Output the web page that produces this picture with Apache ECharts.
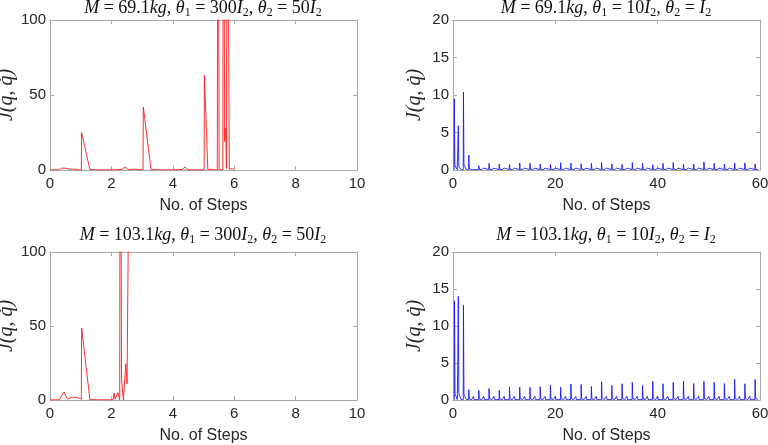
<!DOCTYPE html>
<html>
<head>
<meta charset="utf-8">
<script src="https://cdn.jsdelivr.net/npm/echarts@6/dist/echarts.min.js"></script>
<style>html,body{margin:0;padding:0;background:#fff;}#c{width:768px;height:445px;}</style>
</head>
<body>
<div id="c"></div>
<script>
// ---- Data ----
// Top-left: M = 69.1kg, theta1 = 300 I2, theta2 = 50 I2 (red)
const tlSteps = [0,0.3,0.37,0.43,0.5,0.55,0.65,0.78,0.92,1.02,1.03,1.30,1.6,1.98,2.01,2.05,2.34,2.44,2.52,2.6,2.75,2.9,3.03,3.04,3.29,3.6,4.0,4.02,4.06,4.33,4.40,4.47,4.6,5.02,5.03,5.14,5.3,5.45,5.47,5.51,5.63,5.65,5.69,5.71,5.73,5.75,5.77,5.84,5.9,5.95,6.0];
const tlCost  = [0.1,0.1,1.2,2.2,1.2,0.1,0.5,0.6,0.2,0.1,25,0.3,0.1,0.1,0.6,0.1,0.4,2.0,0.7,0.3,0.6,0.3,0.1,42,0.3,0.1,0.1,0.5,0.1,0.4,2.0,0.4,0.1,0.1,63,0.5,0.2,0.1,300,0.2,0.2,300,19,28,20,1,300,0.5,0.3,1.0,0.2];
// Bottom-left: M = 103.1kg (red)
const blSteps = [0,0.3,0.38,0.46,0.53,0.58,0.7,0.8,0.95,1.02,1.03,1.30,1.6,2.05,2.09,2.12,2.17,2.21,2.24,2.27,2.29,2.33,2.39,2.47,2.51,2.55,2.56];
const blCost  = [0.1,0.1,3,5.4,2,0.5,1.8,2.0,1.3,0.5,48.6,0.3,0.1,0.1,4.7,0.5,1.2,5,4,0.2,300,14,0.2,24.5,11,110,300];
// Top-right: M = 69.1kg, theta1 = 10 I2, theta2 = I2 (blue) – spike steps & peak heights
const trSpikeSteps = [0.22,1.0,2.0,3.05,5,7,9,11,13,15,17,19,21,23,25,27,29,31,33,35,37,39,41,43,45,47,49,51,53,55,57,59];
const trSpikePeaks = [9.5,5.9,10.4,2.0,0.57,0.88,0.8,0.75,0.93,0.88,0.8,0.75,0.97,0.93,0.84,0.88,1.0,0.8,0.75,1.0,0.88,0.7,0.88,1.0,0.8,0.8,1.06,0.88,0.8,0.93,0.93,0.8];
const trMinorSteps = [4,6,8,10,12,14,16,18,20,22,24,26,28,30,32,34,36,38,40,42,44,46,48,50,52,54,56,58];
const trMinorPeaks = [0.25,0.25,0.25,0.25,0.25,0.25,0.25,0.25,0.25,0.25,0.25,0.25,0.25,0.25,0.25,0.25,0.25,0.25,0.25,0.25,0.25,0.25,0.25,0.25,0.25,0.25,0.25,0.25];
// Bottom-right: M = 103.1kg (blue)
const brSpikeSteps = [0.25,1.0,2.0,3.05,5,7,9,11,13,15,17,19,21,23,25,27,29,31,33,35,37,39,41,43,45,47,49,51,53,55,57,59];
const brSpikePeaks = [13.4,14.0,12.8,1.4,1.3,1.56,1.3,1.74,1.74,1.7,1.8,2.0,1.74,2.14,2.1,1.83,2.46,1.96,2.19,2.4,1.96,2.54,2.19,2.37,2.54,2.23,2.5,2.4,2.23,2.8,2.19,2.77];
const brMinorSteps = [4,6,8,10,12,14,16,18,20,22,24,26,28,30,32,34,36,38,40,42,44,46,48,50,52,54,56,58];
const brMinorPeaks = [0.5,0.5,0.5,0.5,0.5,0.5,0.5,0.5,0.5,0.5,0.5,0.5,0.5,0.5,0.5,0.5,0.5,0.5,0.5,0.5,0.5,0.5,0.5,0.5,0.5,0.5,0.5,0.5];
// Axis ticks
const redXTicks = [0,2,4,6,8,10];
const redYTicks = [0,50,100];
const blueXTicks = [0,20,40,60];
const blueYTicks = [0,5,10,15,20];

// ---- Build ----
function pairs(xs, ys){ return xs.map((x,i)=>[x, ys[i]]); }
function spikes(steps, peaks, mSteps, mPeaks){
  const pts = [];
  steps.forEach((s,i)=>{
    const h = peaks[i];
    pts.push([s, 0.05],[s+0.04, h],[s+0.14, 0.05+0.06*h],[s+0.6, 0.05]);
  });
  mSteps.forEach((s,i)=>{
    pts.push([s-0.03,0.05],[s,mPeaks[i]],[s+0.12,0.05]);
  });
  pts.sort((a,b)=>a[0]-b[0]);
  return pts;
}

const grids = [
  {left:50, top:20, width:307, height:150, outerBoundsMode:'none', containLabel:false},
  {left:453, top:20, width:307, height:150, outerBoundsMode:'none', containLabel:false},
  {left:50, top:252, width:307, height:148, outerBoundsMode:'none', containLabel:false},
  {left:453, top:252, width:307, height:148, outerBoundsMode:'none', containLabel:false}
];
const boxColor = '#a9a9a9';
const labelColor = '#262626';
const xCfg = [redXTicks, blueXTicks, redXTicks, blueXTicks];
const yCfg = [redYTicks, blueYTicks, redYTicks, blueYTicks];

const xAxis = [], yAxis = [];
grids.forEach((g,i)=>{
  const xt = xCfg[i], yt = yCfg[i];
  const base = {
    type:'value', gridIndex:i,
    axisLine:{show:true, onZero:false, lineStyle:{color:boxColor, width:1}},
    axisTick:{show:true, inside:true, length:4, lineStyle:{color:boxColor}},
    splitLine:{show:false}
  };
  xAxis.push(Object.assign({}, base, {
    position:'bottom', min:xt[0], max:xt[xt.length-1], interval:xt[1]-xt[0],
    axisLabel:{color:labelColor, fontSize:15, fontFamily:'Liberation Sans', margin:6},
    name:'No. of Steps', nameLocation:'middle', nameGap:28,
    nameTextStyle:{color:labelColor, fontSize:16, fontFamily:'Liberation Sans'}
  }));
  xAxis.push(Object.assign({}, base, {
    position:'top', min:xt[0], max:xt[xt.length-1], interval:xt[1]-xt[0],
    axisLabel:{show:false}
  }));
  yAxis.push(Object.assign({}, base, {
    position:'left', min:yt[0], max:yt[yt.length-1], interval:yt[1]-yt[0],
    axisLabel:{color:labelColor, fontSize:15, fontFamily:'Liberation Sans', margin:4},
    name:'J(q, q\u0307)', nameLocation:'middle', nameGap:28, nameRotate:90,
    nameTextStyle:{color:labelColor, fontSize:20, fontFamily:'Liberation Serif', fontStyle:'italic'}
  }));
  yAxis.push(Object.assign({}, base, {
    position:'right', min:yt[0], max:yt[yt.length-1], interval:yt[1]-yt[0],
    axisLabel:{show:false}
  }));
});

function lineSeries(i, data, color){
  return {
    type:'line', xAxisIndex:2*i, yAxisIndex:2*i, data:data,
    showSymbol:false, symbol:'none', clip:true, animation:false,
    lineStyle:{color:color, width:0.9}
  };
}

const series = [
  lineSeries(0, pairs(tlSteps, tlCost), '#ff1a1a'),
  lineSeries(1, spikes(trSpikeSteps, trSpikePeaks, trMinorSteps, trMinorPeaks), '#1a1aff'),
  lineSeries(2, pairs(blSteps, blCost), '#ff1a1a'),
  lineSeries(3, spikes(brSpikeSteps, brSpikePeaks, brMinorSteps, brMinorPeaks), '#1a1aff')
];

const serif = 'Liberation Serif';
const titleRich = {
  i:{fontStyle:'italic', fontFamily:serif, fontSize:18, fill:'#111'},
  n:{fontFamily:serif, fontSize:18, fill:'#111'},
  s:{fontFamily:serif, fontSize:12, fill:'#111', padding:[9,0,0,0]}
};
const titles = [
  {x:203, y:8, text:'{i|M}{n| = 69.1}{i|kg}{n|, }{i|θ}{s|1}{n| = 300}{i|I}{s|2}{n|, }{i|θ}{s|2}{n| = 50}{i|I}{s|2}'},
  {x:606, y:8, text:'{i|M}{n| = 69.1}{i|kg}{n|, }{i|θ}{s|1}{n| = 10}{i|I}{s|2}{n|, }{i|θ}{s|2}{n| = }{i|I}{s|2}'},
  {x:203, y:235, text:'{i|M}{n| = 103.1}{i|kg}{n|, }{i|θ}{s|1}{n| = 300}{i|I}{s|2}{n|, }{i|θ}{s|2}{n| = 50}{i|I}{s|2}'},
  {x:606, y:235, text:'{i|M}{n| = 103.1}{i|kg}{n|, }{i|θ}{s|1}{n| = 10}{i|I}{s|2}{n|, }{i|θ}{s|2}{n| = }{i|I}{s|2}'}
];

const chart = echarts.init(document.getElementById('c'), null, {renderer:'canvas'});
chart.setOption({
  backgroundColor:'#fff',
  animation:false,
  grid:grids,
  xAxis:xAxis,
  yAxis:yAxis,
  series:series,
  graphic:titles.map(t=>({
    type:'text', x:t.x, y:t.y,
    style:{text:t.text, align:'center', verticalAlign:'middle', rich:titleRich, fontFamily:serif, fontSize:18, fill:'#111'}
  }))
});
</script>
</body>
</html>
